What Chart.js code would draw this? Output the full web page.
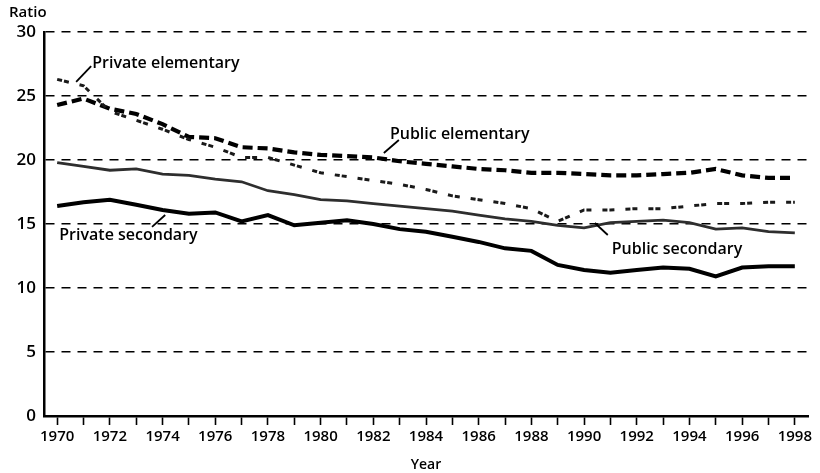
<!DOCTYPE html>
<html>
<head>
<meta charset="utf-8">
<script src="https://cdn.jsdelivr.net/npm/chart.js@4/dist/chart.umd.min.js"></script>
<style>
html,body{margin:0;padding:0;background:#fff;}
#wrap{width:820px;height:473px;position:relative;}
</style>
</head>
<body>
<div id="wrap"><canvas id="c" width="820" height="473"></canvas></div>
<script>
const years = ['1970','1971','1972','1973','1974','1975','1976','1977','1978','1979','1980','1981','1982','1983','1984','1985','1986','1987','1988','1989','1990','1991','1992','1993','1994','1995','1996','1997','1998'];
const publicElementary = [24.3,24.8,24.0,23.6,22.8,21.8,21.7,21.0,20.9,20.6,20.4,20.3,20.2,19.9,19.7,19.5,19.3,19.2,19.0,19.0,18.9,18.8,18.8,18.9,19.0,19.3,18.8,18.6,18.6];
const privateElementary = [26.3,25.8,23.8,23.1,22.4,21.6,21.0,20.2,20.2,19.6,19.0,18.7,18.4,18.1,17.7,17.2,16.9,16.6,16.2,15.2,16.1,16.1,16.2,16.2,16.4,16.6,16.6,16.7,16.7];
const publicSecondary = [19.8,19.5,19.2,19.3,18.9,18.8,18.5,18.3,17.6,17.3,16.9,16.8,16.6,16.4,16.2,16.0,15.7,15.4,15.2,14.9,14.7,15.1,15.2,15.3,15.1,14.6,14.7,14.4,14.3];
const privateSecondary = [16.4,16.7,16.9,16.5,16.1,15.8,15.9,15.2,15.7,14.9,15.1,15.3,15.0,14.6,14.4,14.0,13.6,13.1,12.9,11.8,11.4,11.2,11.4,11.6,11.5,10.9,11.6,11.7,11.7];
const yTicks = [0,5,10,15,20,25,30];

// label text, text anchor (category index, value), leader line from/to (index, value)
const seriesLabels = [
  {text:'Private elementary', at:[1.33,27.58], from:[1.29,27.34], to:[0.72,26.1]},
  {text:'Public elementary', at:[12.63,22.03], from:[12.97,21.56], to:[12.4,20.55]},
  {text:'Private secondary', at:[0.08,14.14], from:[3.6,14.77], to:[4.1,15.7]},
  {text:'Public secondary', at:[21.05,13.05], from:[20.9,14.14], to:[20.41,15.08]}
];

const FONT = '"Open Sans", "Liberation Sans", sans-serif';

const annot = {
  id:'annot',
  afterDraw(chart){
    const ctx = chart.ctx, xs = chart.scales.x, ys = chart.scales.y;
    ctx.save();
    ctx.fillStyle = '#000';
    ctx.strokeStyle = '#000';
    ctx.font = '600 15px ' + FONT;
    ctx.textAlign = 'left';
    ctx.textBaseline = 'middle';
    ctx.fillText('Ratio', 9, 13);
    ctx.font = '600 16px ' + FONT;
    ctx.lineWidth = 1.8;
    seriesLabels.forEach(l => {
      ctx.fillText(l.text, xs.getPixelForValue(l.at[0]), ys.getPixelForValue(l.at[1]));
      ctx.beginPath();
      ctx.moveTo(xs.getPixelForValue(l.from[0]), ys.getPixelForValue(l.from[1]));
      ctx.lineTo(xs.getPixelForValue(l.to[0]), ys.getPixelForValue(l.to[1]));
      ctx.stroke();
    });
    ctx.restore();
  }
};

new Chart(document.getElementById('c'), {
  type:'line',
  data:{
    labels: years,
    datasets:[
      {label:'Private secondary', data:privateSecondary, borderColor:'#000', borderWidth:4, pointRadius:0, tension:0},
      {label:'Public secondary', data:publicSecondary, borderColor:'#2e2e2e', borderWidth:2.8, pointRadius:0, tension:0},
      {label:'Private elementary', data:privateElementary, borderColor:'#1a1a1a', borderWidth:3, borderDash:[5,2,5,11], pointRadius:0, tension:0},
      {label:'Public elementary', data:publicElementary, borderColor:'#000', borderWidth:4.2, borderDash:[10,5], pointRadius:0, tension:0}
    ]
  },
  options:{
    responsive:false,
    animation:false,
    devicePixelRatio:1,
    layout:{padding:{top:32,right:12,left:0,bottom:0}},
    plugins:{legend:{display:false},tooltip:{enabled:false},title:{display:false}},
    scales:{
      x:{
        type:'category',
        offset:true,
        grid:{offset:false, drawOnChartArea:false, drawTicks:true, tickLength:9, tickColor:'#000', tickWidth:1.6},
        border:{display:true, color:'#000', width:2.5},
        ticks:{autoSkip:false, maxRotation:0, minRotation:0, padding:3, color:'#000',
          font:{family:FONT, size:15, weight:'600'},
          callback:(v,i)=> i%2===0 ? years[i] : ''},
        title:{display:true, text:'Year', color:'#000', font:{family:FONT, size:14, weight:'600'}, padding:{top:0,bottom:0}},
        afterFit:(s)=>{ s.height = 57; }
      },
      y:{
        min:0, max:30,
        afterBuildTicks:(s)=>{ s.ticks = yTicks.map(v=>({value:v})); },
        grid:{color:(c)=> c.tick && c.tick.value===0 ? 'rgba(0,0,0,0)' : '#000', lineWidth:1.5, drawTicks:false},
        border:{display:true, color:'#000', width:2.5, dash:[9,7]},
        ticks:{padding:8, color:'#000', font:{family:FONT, size:17, weight:'600'}},
        afterFit:(s)=>{ s.width = 44; }
      }
    }
  },
  plugins:[annot]
});
</script>
</body>
</html>
